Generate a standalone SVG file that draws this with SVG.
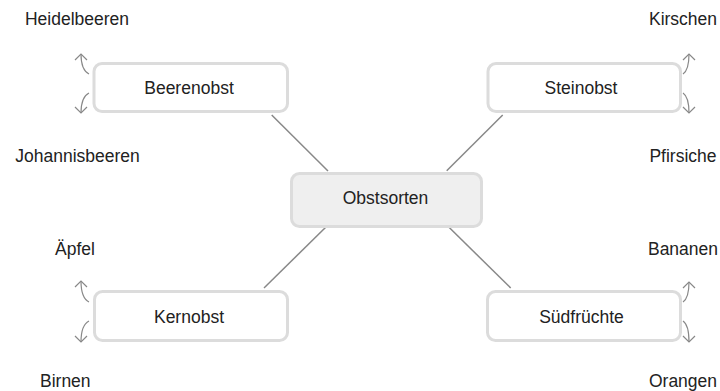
<svg xmlns="http://www.w3.org/2000/svg" width="720" height="391" viewBox="0 0 720 391">
<defs>
<style>
text{font-family:"Liberation Sans",Arial,sans-serif;font-size:17.5px;fill:#222}
.box{fill:#fff;stroke:#dcdcdc;stroke-width:3}
.root{fill:#efefef;stroke:#dcdcdc;stroke-width:3}
.link{stroke:#888;stroke-width:1.5;fill:none}
.arr{stroke:#888;stroke-width:1.2;fill:none;marker-end:url(#head)}
.c{text-anchor:middle}
</style>
<marker id="head" markerUnits="userSpaceOnUse" markerWidth="14" markerHeight="14" refX="7" refY="7" orient="auto" viewBox="0 0 14 14">
<path d="M1,1 L7,7 L1,13" fill="none" stroke="#888" stroke-width="1.2"/>
</marker>
</defs>
<rect width="720" height="391" fill="#fff"/>
<g id="connectors">
<path class="link" d="M271.7,115 L328,171"/>
<path class="link" d="M502.7,115 L446.7,170.7"/>
<path class="link" d="M328,225 L264,288"/>
<path class="link" d="M446.7,225 L510.7,288"/>
<path class="arr" d="M89,74 Q81,70 81,54"/>
<path class="arr" d="M89,93 Q81,97 81,113"/>
<path class="arr" d="M683,74 Q689,70 689,54"/>
<path class="arr" d="M683,93 Q689,97 689,113"/>
<path class="arr" d="M89,302 Q81,298 81,281"/>
<path class="arr" d="M89,321 Q81,325 81,342"/>
<path class="arr" d="M683,302 Q689,298 689,282"/>
<path class="arr" d="M683,321 Q689,325 689,342"/>
</g>
<g id="obstsorten">
<rect class="root" x="291.5" y="173.5" width="190" height="53" rx="8"/>
<text class="c" x="385.5" y="204.3">Obstsorten</text>
</g>
<g id="beerenobst">
<rect class="box" x="94" y="63.5" width="193.5" height="48" rx="8"/>
<text class="c" x="189" y="94">Beerenobst</text>
</g>
<g id="steinobst">
<rect class="box" x="488" y="63.5" width="192.5" height="48" rx="8"/>
<text class="c" x="581" y="94">Steinobst</text>
</g>
<g id="kernobst">
<rect class="box" x="94.5" y="291.5" width="193" height="49" rx="8"/>
<text class="c" x="189" y="322.7">Kernobst</text>
</g>
<g id="suedfruechte">
<rect class="box" x="487.5" y="291.5" width="193" height="49" rx="8"/>
<text class="c" x="581.5" y="322.7">Südfrüchte</text>
</g>
<g id="heidelbeeren"><text class="c" x="77" y="25">Heidelbeeren</text></g>
<g id="johannisbeeren"><text class="c" x="77.5" y="162">Johannisbeeren</text></g>
<g id="kirschen"><text class="c" x="683" y="25">Kirschen</text></g>
<g id="pfirsiche"><text class="c" x="683" y="162">Pfirsiche</text></g>
<g id="aepfel"><text x="55" y="255">Äpfel</text></g>
<g id="birnen"><text x="40" y="386.5">Birnen</text></g>
<g id="bananen"><text class="c" x="683" y="255">Bananen</text></g>
<g id="orangen"><text class="c" x="683" y="386.5">Orangen</text></g>
</svg>
